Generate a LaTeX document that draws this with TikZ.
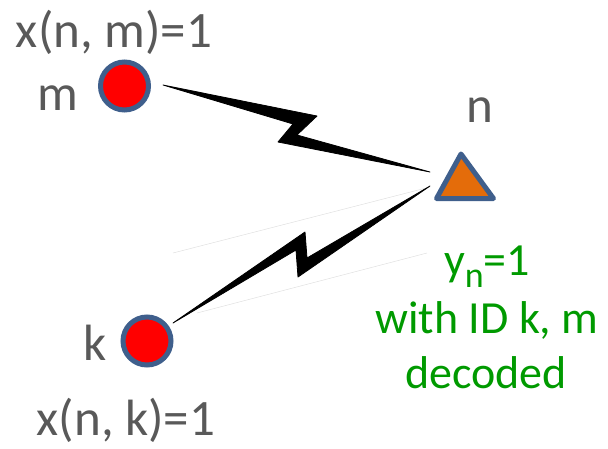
\documentclass[tikz,border=0pt]{standalone}
\usepackage{fontspec}
\setmainfont{Carlito}
\definecolor{txtgray}{HTML}{595959}
\definecolor{ringblue}{HTML}{3F5F8C}
\definecolor{nodered}{HTML}{FF0000}
\definecolor{triorange}{HTML}{E46C0A}
\definecolor{decgreen}{HTML}{009A00}
\begin{document}
\begin{tikzpicture}[x=1pt,y=-1pt,
  station/.style={circle, draw=ringblue, fill=nodered, line width=5pt, minimum size=48pt, inner sep=0pt},
  basestation/.style={draw=ringblue, fill=triorange, line width=5pt, line join=round},
  lbl/.style={text=txtgray, font=\fontsize{51}{61}\selectfont, anchor=base, inner sep=0pt},
  glbl/.style={text=decgreen, font=\fontsize{46}{55}\selectfont, anchor=base, inner sep=0pt},
  bolt/.style={fill=black, draw=black, line width=0.8pt, line join=round},
  faint/.style={draw=black!12, line width=0.5pt}]
\useasboundingbox (0,0) rectangle (608,448);
% faint lines
\draw[faint] (173,253) -- (430,187);
\draw[faint] (197,313) -- (427,253);
% stations
\node[station] (m) at (124.5,86) {};
\node[station] (k) at (147,341) {};
% lightning bolts
\fill[bolt] (163,85) -- (317,116) -- (297,135) -- (430,172) -- (278,142) -- (293,124) -- cycle;
\fill[bolt] (173,323) -- (305,232) -- (307,258) -- (430,186) -- (298,277) -- (296,250) -- cycle;
% base station n
\coordinate (n) at (464,184);
\draw[basestation] (461,154) -- (436.5,198.5) -- (493.5,198.5) -- cycle;
% labels
\node[lbl] (xm) at (114,47) {x(n, m)=1};
\node[lbl] (ml) at (58,110) {m};
\node[lbl] (kl) at (95,360) {k};
\node[lbl] (xk) at (126,435) {x(n, k)=1};
\node[lbl] (nl) at (480,122) {n};
\node[glbl] (yn) at (487,275) {y\raisebox{-12pt}{\fontsize{36}{36}\selectfont n}=1};
\node[glbl] (wid) at (487,333) {with ID k, m};
\node[glbl] (dec) at (486,388) {decoded};
\end{tikzpicture}
\end{document}
